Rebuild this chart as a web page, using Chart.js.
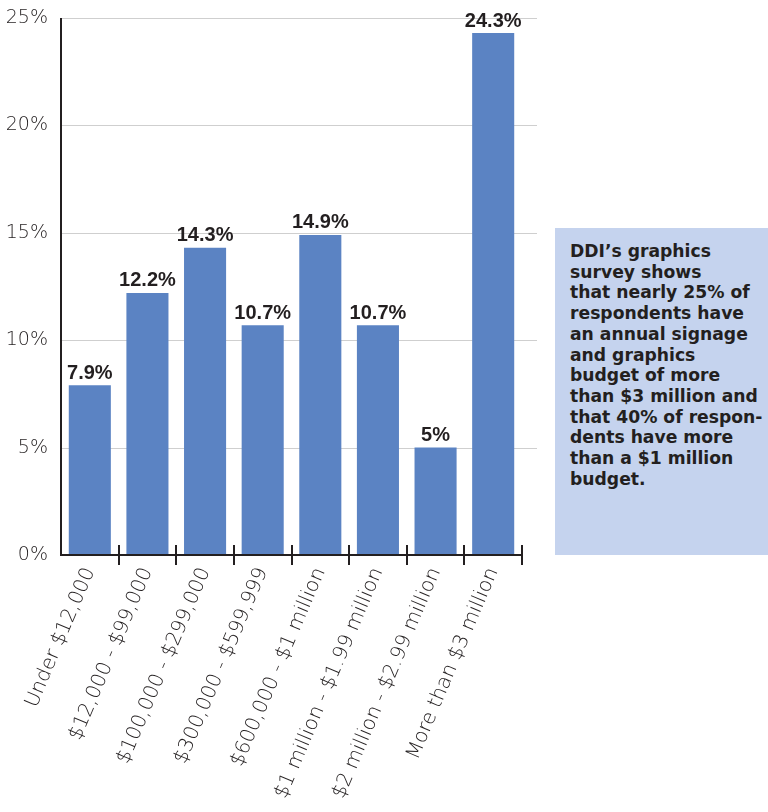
<!DOCTYPE html>
<html>
<head>
<meta charset="utf-8">
<script src="https://cdn.jsdelivr.net/npm/chart.js@4.4.1/dist/chart.umd.min.js"></script>
<style>
  html, body { margin: 0; padding: 0; background: #fff; }
  #wrap { position: relative; width: 768px; height: 812px; }
  #note {
    position: absolute; left: 555px; top: 228px; width: 213px; height: 327px;
    background: #c5d3ee; box-sizing: border-box; padding: 13px 0 0 15px;
    font-family: "DejaVu Sans", sans-serif; font-weight: bold;
    font-size: 17.2px; line-height: 20.7px; color: #231f20;
  }
</style>
</head>
<body>
<div id="wrap">
  <canvas id="budgetChart" width="768" height="812"></canvas>
  <div id="note">DDI’s graphics<br>survey shows<br>that nearly 25% of<br>respondents have<br>an annual signage<br>and graphics<br>budget of more<br>than $3 million and<br>that 40% of respon-<br>dents have more<br>than a $1 million<br>budget.</div>
</div>
<script>
const categories = ['Under $12,000', '$12,000 - $99,000', '$100,000 - $299,000', '$300,000 - $599,999',
  '$600,000 - $1 million', '$1 million - $1.99 million', '$2 million - $2.99 million', 'More than $3 million'];
const shares = [7.9, 12.2, 14.3, 10.7, 14.9, 10.7, 5, 24.3];
const valueLabels = ['7.9%', '12.2%', '14.3%', '10.7%', '14.9%', '10.7%', '5%', '24.3%'];

// light gridlines run a little past the last category
const gridPlugin = {
  id: 'grid',
  beforeDatasetsDraw(chart) {
    const { ctx, chartArea, scales: { y } } = chart;
    ctx.save();
    ctx.strokeStyle = '#cfcfcf';
    ctx.lineWidth = 1;
    y.ticks.forEach(t => {
      if (t.value === 0) return;
      const py = Math.round(y.getPixelForValue(t.value)) + 0.5;
      ctx.beginPath();
      ctx.moveTo(chartArea.left, py);
      ctx.lineTo(chartArea.right + 15, py);
      ctx.stroke();
    });
    ctx.restore();
  }
};

// axis lines, category tick marks and the value labels over each bar
const axisPlugin = {
  id: 'axes',
  afterDatasetsDraw(chart) {
    const { ctx, chartArea } = chart;
    const step = chartArea.width / categories.length;
    ctx.save();
    ctx.strokeStyle = '#231f20';
    ctx.lineWidth = 2;
    ctx.beginPath();
    ctx.moveTo(chartArea.left, chartArea.top);
    ctx.lineTo(chartArea.left, chartArea.bottom);
    ctx.lineTo(chartArea.right, chartArea.bottom);
    ctx.stroke();
    for (let i = 1; i <= categories.length; i++) {
      const px = Math.round(chartArea.left + step * i);
      ctx.beginPath();
      ctx.moveTo(px, chartArea.bottom - 10);
      ctx.lineTo(px, chartArea.bottom + 10);
      ctx.stroke();
    }

    ctx.fillStyle = '#231f20';
    ctx.font = 'bold 20px "Liberation Sans", Arial, sans-serif';
    ctx.textAlign = 'center';
    ctx.textBaseline = 'bottom';
    chart.getDatasetMeta(0).data.forEach((bar, i) => {
      ctx.fillText(valueLabels[i], bar.x, bar.y - 2);
    });
    ctx.restore();
  }
};

const ctx = document.getElementById('budgetChart').getContext('2d');
new Chart(ctx, {
  type: 'bar',
  data: {
    labels: categories,
    datasets: [{
      data: shares,
      backgroundColor: '#5b83c3',
      categoryPercentage: 0.73,
      barPercentage: 1
    }]
  },
  options: {
    responsive: false,
    animation: false,
    layout: { padding: { top: 18, right: 246, left: 0, bottom: 0 } },
    plugins: { legend: { display: false }, tooltip: { enabled: false } },
    scales: {
      x: {
        grid: { display: false, drawTicks: false },
        border: { display: false },
        ticks: {
          color: '#231f20',
          font: { family: '"DejaVu Sans", sans-serif', size: 20, weight: 200 },
          minRotation: 67,
          maxRotation: 67,
          padding: 9,
          autoSkip: false
        },
        afterFit(s) { s.height = 257; s.paddingLeft = 0; s.paddingRight = 0; }
      },
      y: {
        min: 0,
        max: 25,
        grid: { display: false, drawTicks: false },
        border: { display: false },
        ticks: {
          stepSize: 5,
          padding: 13,
          color: '#231f20',
          font: { family: '"DejaVu Sans", sans-serif', size: 19, weight: 200 },
          callback: v => v + '%'
        },
        afterFit(s) { s.width = 61; s.paddingTop = 0; s.paddingBottom = 0; }
      }
    }
  },
  plugins: [gridPlugin, axisPlugin]
});
</script>
</body>
</html>
